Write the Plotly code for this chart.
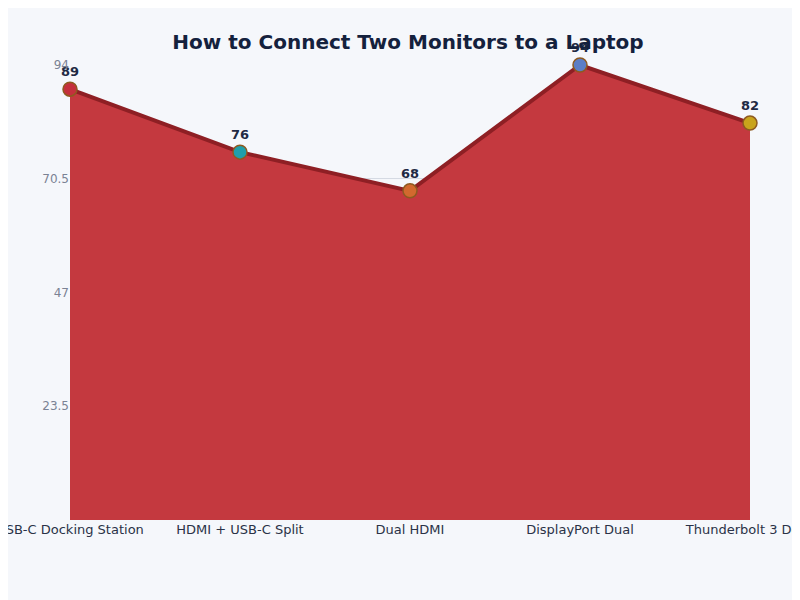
import plotly.graph_objects as go

categories = ["USB-C Docking Station", "HDMI + USB-C Split", "Dual HDMI", "DisplayPort Dual", "Thunderbolt 3 Dock"]
values = [89, 76, 68, 94, 82]
marker_colors = ["#c4303c", "#1f9fab", "#d2692e", "#5b7ec6", "#c9a41c"]
tick_vals = [0, 23.5, 47, 70.5, 94]
tick_text = ["", "23.5", "47", "70.5", "94"]

fig = go.Figure()
fig.add_trace(go.Scatter(
    x=categories, y=values,
    mode="lines+markers+text",
    fill="tozeroy",
    fillcolor="#c4393f",
    line=dict(color="#8e1f24", width=4),
    marker=dict(size=14, color=marker_colors, line=dict(color="#8e5a20", width=1.5)),
    text=[str(v) for v in values],
    textposition="top center",
    textfont=dict(size=13, color="#1f2a44", family="DejaVu Sans"),
    texttemplate="<b>%{text}</b>",
    cliponaxis=False,
    hoverinfo="skip",
))
fig.update_layout(
    width=800, height=600,
    paper_bgcolor="#f5f7fb", plot_bgcolor="#f5f7fb",
    title=dict(text="<b>How to Connect Two Monitors to a Laptop</b>", x=0.5, y=0.955,
               font=dict(size=20, color="#14213d", family="DejaVu Sans")),
    margin=dict(l=62, r=58, t=57, b=88),
    showlegend=False,
    font=dict(family="DejaVu Sans"),
    xaxis=dict(showgrid=False, range=[0, 4], automargin=False,
               tickfont=dict(size=13, color="#2a3247"), zeroline=False),
    yaxis=dict(range=[0, 94], tickvals=tick_vals, ticktext=tick_text, gridcolor="#d5dae3", automargin=False,
               tickfont=dict(size=12, color="#7a8294"), zeroline=False),
)
fig.write_html("out.html")
